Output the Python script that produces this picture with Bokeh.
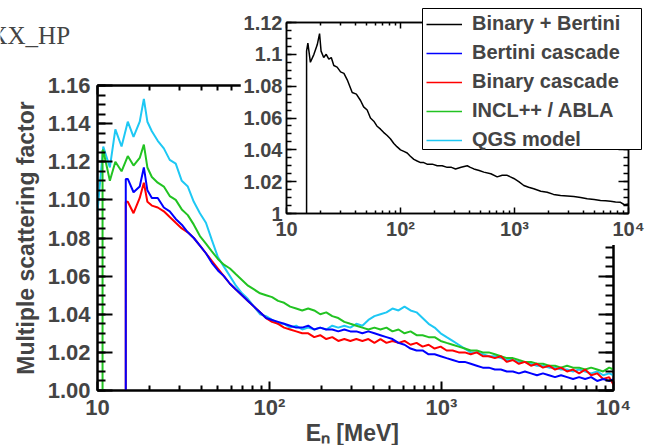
from bokeh.plotting import figure
from bokeh.models import (Range1d, LogAxis, LinearAxis, FixedTicker, NumeralTickFormatter,
                          CustomJSTickFormatter, Legend, LegendItem, Label)
from bokeh.embed import file_html
from bokeh.resources import INLINE

FONT = "Liberation Sans"

# ---------------- data ----------------
energy_grid = [10.0, 10.8, 11.8, 12.7, 13.8, 15.0, 16.2, 17.6, 18.6, 19.5, 20.7, 22.4, 24.3, 26.3,
               28.5, 30.9, 33.5, 36.3, 39.4, 42.7, 46.2, 50.1, 54.3, 58.9, 63.8, 69.2, 75.0, 81.3,
               88.1, 95.5, 103.5, 112.2, 121.6, 131.8, 142.9, 154.9, 167.9, 182.0, 197.2, 213.8,
               231.7, 251.2, 272.3, 295.1, 319.9, 346.7, 375.8, 407.4, 441.6, 478.6, 518.8, 562.3,
               609.5, 660.7, 716.1, 776.2, 841.4, 912.0, 988.6, 1071, 1161, 1259, 1365, 1479, 1603,
               1738, 1884, 2042, 2213, 2399, 2600, 2818, 3055, 3311, 3589, 3890, 4217, 4571, 4955,
               5370, 5821, 6310, 6839, 7413, 8035, 8710, 9441, 10000]

qgs_start = None
qgs = [1.094, 1.128, 1.117, 1.137, 1.128, 1.141, 1.133, 1.141, 1.153, 1.141, 1.136, 1.131, 1.127,
       1.121, 1.119, 1.110, 1.107, 1.099, 1.093, 1.088, 1.079, 1.070, 1.065, 1.060, 1.055, 1.051,
       1.048, 1.044, 1.040, 1.039, 1.037, 1.035, 1.035, 1.033, 1.034, 1.032, 1.033, 1.032, 1.033,
       1.032, 1.034, 1.033, 1.034, 1.033, 1.035, 1.034, 1.037, 1.039, 1.040, 1.041, 1.043, 1.042,
       1.044, 1.042, 1.041, 1.038, 1.035, 1.033, 1.030, 1.028, 1.026, 1.024, 1.022, 1.020, 1.020,
       1.019, 1.018, 1.018, 1.017, 1.016, 1.016, 1.015, 1.015, 1.014, 1.013, 1.013, 1.012, 1.012,
       1.011, 1.011, 1.010, 1.011, 1.010, 1.009, 1.010, 1.008, 1.009, 1.008]

incl_start = 10.7
incl = [None, 1.126, 1.110, 1.120, 1.115, 1.123, 1.118, 1.122, 1.129, 1.117, 1.112, 1.109, 1.107,
        1.102, 1.100, 1.095, 1.092, 1.087, 1.081, 1.077, 1.073, 1.069, 1.066, 1.064, 1.061, 1.058,
        1.055, 1.053, 1.051, 1.050, 1.049, 1.047, 1.046, 1.044, 1.043, 1.042, 1.043, 1.042, 1.040,
        1.041, 1.039, 1.038, 1.036, 1.035, 1.034, 1.033, 1.032, 1.033, 1.032, 1.033, 1.031, 1.032,
        1.030, 1.031, 1.029, 1.029, 1.028, 1.028, 1.026, 1.025, 1.024, 1.023, 1.022, 1.021, 1.021,
        1.020, 1.020, 1.019, 1.018, 1.017, 1.017, 1.016, 1.015, 1.015, 1.014, 1.014, 1.013, 1.013,
        1.012, 1.013, 1.012, 1.012, 1.011, 1.012, 1.011, 1.010, 1.012, 1.011]

bertini_start = 14.6
bertini = [None, None, None, None, None, 1.111, 1.104, 1.107, 1.117, 1.105, 1.101, 1.101, 1.096,
           1.094, 1.090, 1.087, 1.083, 1.080, 1.076, 1.072, 1.067, 1.063, 1.060, 1.056, 1.053,
           1.050, 1.047, 1.044, 1.041, 1.038, 1.037, 1.036, 1.035, 1.034, 1.033, 1.033, 1.034,
           1.032, 1.033, 1.032, 1.032, 1.031, 1.032, 1.031, 1.031, 1.030, 1.031, 1.030, 1.029,
           1.028, 1.027, 1.025, 1.024, 1.022, 1.021, 1.021, 1.019, 1.019, 1.018, 1.017, 1.016,
           1.015, 1.015, 1.014, 1.013, 1.012, 1.012, 1.011, 1.011, 1.010, 1.010, 1.009, 1.010,
           1.009, 1.008, 1.009, 1.008, 1.007, 1.008, 1.007, 1.006, 1.007, 1.006, 1.007, 1.005,
           1.006, 1.005, 1.006]

binary_start = 14.6
binary = [None, None, None, None, None, 1.099, 1.093, 1.101, 1.109, 1.099, 1.097, 1.096, 1.094,
          1.091, 1.088, 1.085, 1.083, 1.080, 1.076, 1.072, 1.068, 1.064, 1.060, 1.056, 1.053,
          1.050, 1.047, 1.044, 1.041, 1.038, 1.036, 1.035, 1.033, 1.032, 1.031, 1.030, 1.030,
          1.028, 1.029, 1.027, 1.028, 1.026, 1.027, 1.026, 1.027, 1.026, 1.027, 1.025, 1.027,
          1.025, 1.026, 1.025, 1.026, 1.024, 1.025, 1.023, 1.024, 1.022, 1.023, 1.021, 1.021,
          1.020, 1.020, 1.019, 1.020, 1.018, 1.018, 1.017, 1.018, 1.015, 1.016, 1.014, 1.015,
          1.013, 1.014, 1.012, 1.013, 1.011, 1.012, 1.010, 1.011, 1.009, 1.011, 1.008, 1.009,
          1.006, 1.007, 1.003]

combined_start = 15.0
combined_energy = [15.0, 15.4, 16.2, 17.4, 18.6, 19.5, 20.1, 21.2, 22.3, 23.5, 24.7, 26.0, 27.8,
                   29.8, 31.9, 34.1, 37.7, 41.0, 44.6, 47.5, 51.0, 54.5, 58.3, 62.0, 66.8, 71.0,
                   76.4, 81.5, 87.4, 93.0, 100, 107, 114.5, 122, 131, 140, 150, 160, 171, 190,
                   210, 232, 257, 280, 304, 340, 385, 410, 440, 490, 538, 620, 705, 780, 863,
                   920, 986, 1090, 1207, 1330, 1476, 1700, 1936, 2200, 2535, 2900, 3314, 3800,
                   4343, 5000, 5680, 6300, 6950, 7700, 8511, 9200, 10000]
combined = [1.102, 1.107, 1.095, 1.100, 1.106, 1.113, 1.102, 1.098, 1.100, 1.097, 1.098, 1.093,
            1.092, 1.089, 1.088, 1.084, 1.076, 1.075, 1.071, 1.067, 1.065, 1.060, 1.058, 1.055,
            1.053, 1.051, 1.049, 1.047, 1.044, 1.042, 1.040, 1.039, 1.038, 1.036, 1.034, 1.033,
            1.032, 1.032, 1.031, 1.031, 1.030, 1.030, 1.029, 1.029, 1.028, 1.029, 1.030, 1.029,
            1.028, 1.027, 1.026, 1.025, 1.023, 1.024, 1.024, 1.023, 1.022, 1.020, 1.0176, 1.0165,
            1.0155, 1.014, 1.0134, 1.012, 1.0113, 1.011, 1.0107, 1.010, 1.0092, 1.0088, 1.0082,
            1.008, 1.0077, 1.0072, 1.007, 1.0055, 1.006]

series_names = ["Binary + Bertini", "Bertini cascade", "Binary cascade", "INCL++ / ABLA", "QGS model"]
series_colors = ["#000000", "#0000ff", "#ff0000", "#22c322", "#1ec8f4"]

x_major = [10, 100, 1000, 10000]
x_labels = ["10", "10\u00b2", "10\u00b3", "10\u2074"]
x_minor = [m * d for d in (10, 100, 1000) for m in range(2, 10)]
main_y_major = [1.00, 1.02, 1.04, 1.06, 1.08, 1.10, 1.12, 1.14, 1.16]
inset_y_major = [1.00, 1.02, 1.04, 1.06, 1.08, 1.10, 1.12]
inset_y_labels = ["1", "1.02", "1.04", "1.06", "1.08", "1.1", "1.12"]
y_minor = [1.0 + 0.005 * i for i in range(0, 33)]
physics_list_tag = "XX_HP"


def hist_xy(start, grid, vals):
    xs, ys = [], []
    first = True
    for e, v in zip(grid, vals):
        if v is None:
            continue
        if first and start is not None:
            xs += [start, start]
            ys += [0.0, v]
        first = False
        xs.append(e)
        ys.append(v)
    return xs, ys


def label_formatter(vals, labels):
    return CustomJSTickFormatter(args=dict(tvals=vals, tlabels=labels), code="""
        for (let i = 0; i < tvals.length; i++) {
            if (Math.abs(tvals[i] - tick) < 1e-6 * Math.abs(tvals[i])) { return tlabels[i] }
        }
        return ''
    """)


def blank_formatter():
    return CustomJSTickFormatter(code="return ' '")


def style_axis(ax, major_len, minor_len, width, size, standoff):
    ax.major_tick_in = major_len
    ax.major_tick_out = 0
    ax.minor_tick_in = minor_len
    ax.minor_tick_out = 0
    ax.axis_line_width = width
    ax.axis_line_color = "black"
    ax.major_tick_line_width = width
    ax.minor_tick_line_width = width
    ax.major_label_text_font = FONT
    ax.major_label_text_font_style = "bold"
    ax.major_label_text_font_size = size
    ax.major_label_standoff = standoff


series_xy = {
    "Binary + Bertini": hist_xy(combined_start, combined_energy, combined),
    "Bertini cascade": hist_xy(bertini_start, energy_grid, bertini),
    "Binary cascade": hist_xy(binary_start, energy_grid, binary),
    "INCL++ / ABLA": hist_xy(incl_start, energy_grid, incl),
    "QGS model": hist_xy(qgs_start, energy_grid, qgs),
}

# ---------------- main plot ----------------
p = figure(frame_width=516, frame_height=305, x_axis_type="log", x_range=Range1d(10, 10000),
           y_range=Range1d(1.0, 1.16), output_backend="svg", toolbar_location=None,
           min_border_left=97, min_border_right=43, min_border_top=85, min_border_bottom=53)
p.grid.visible = False
p.outline_line_color = "black"
p.outline_line_width = 2
p.background_fill_color = "white"
p.border_fill_color = "white"

x_ticker = FixedTicker(ticks=x_major, minor_ticks=x_minor)
y_ticker = FixedTicker(ticks=main_y_major, minor_ticks=y_minor)

xa = p.xaxis[0]
xa.ticker = x_ticker
xa.formatter = label_formatter(x_major, x_labels)
style_axis(xa, 9, 5, 2, "22px", 4)
xa.axis_label = "E\u2099  [MeV]"
xa.axis_label_text_font = FONT
xa.axis_label_text_font_style = "bold"
xa.axis_label_text_font_size = "23px"
xa.axis_label_standoff = -3

ya = p.yaxis[0]
ya.ticker = y_ticker
ya.formatter = NumeralTickFormatter(format="0.00")
style_axis(ya, 15, 8, 2, "22px", 7)
ya.axis_label = "Multiple scattering factor"
ya.axis_label_text_font = FONT
ya.axis_label_text_font_style = "bold"
ya.axis_label_text_font_size = "23px"
ya.axis_label_standoff = 6

top = LogAxis(ticker=x_ticker, formatter=blank_formatter())
style_axis(top, 9, 5, 2, "2px", 0)
p.add_layout(top, "above")
right = LinearAxis(ticker=y_ticker, formatter=blank_formatter())
style_axis(right, 15, 8, 2, "2px", 0)
p.add_layout(right, "right")

# drawing order: QGS, INCL, Binary, Bertini (Bertini on top)
for idx in (4, 3, 2, 1):
    xs, ys = series_xy[series_names[idx]]
    p.line(xs, ys, line_color=series_colors[idx], line_width=2)

# ---------------- inset ----------------
ins = figure(frame_width=342, frame_height=191, x_axis_type="log", x_range=Range1d(10, 10000),
             y_range=Range1d(1.0, 1.12), output_backend="svg", toolbar_location=None,
             min_border_left=46, min_border_right=22, min_border_top=14, min_border_bottom=32,
             styles={"position": "absolute", "left": "240px", "top": "8px", "z-index": "2"})
ins.grid.visible = False
ins.outline_line_color = "black"
ins.outline_line_width = 1.5
ins.background_fill_color = "white"
ins.border_fill_color = "white"

iy_ticker = FixedTicker(ticks=inset_y_major, minor_ticks=y_minor[:25])
ixa = ins.xaxis[0]
ixa.ticker = x_ticker
ixa.formatter = label_formatter(x_major, x_labels)
style_axis(ixa, 6, 3, 1.5, "20px", 4)
iya = ins.yaxis[0]
iya.ticker = iy_ticker
iya.formatter = label_formatter(inset_y_major, inset_y_labels)
style_axis(iya, 10, 5, 1.5, "20px", 4)
itop = LogAxis(ticker=x_ticker, formatter=blank_formatter())
style_axis(itop, 6, 3, 1.5, "2px", 0)
ins.add_layout(itop, "above")
iright = LinearAxis(ticker=iy_ticker, formatter=blank_formatter())
style_axis(iright, 10, 5, 1.5, "2px", 0)
ins.add_layout(iright, "right")

cx, cy = series_xy[series_names[0]]
ins.line(cx, cy, line_color=series_colors[0], line_width=1.5)

# ---------------- legend box (small panel on top) ----------------
# its ranges lie outside the data, so the series lines here only serve the legend samples
leg = figure(frame_width=220, frame_height=142, x_range=Range1d(0, 1), y_range=Range1d(0, 1),
             x_axis_location=None, y_axis_location=None,
             output_backend="svg", toolbar_location=None,
             min_border_left=0, min_border_right=0, min_border_top=0, min_border_bottom=0,
             styles={"position": "absolute", "left": "422px", "top": "8px", "z-index": "3"})
leg.grid.visible = False
leg.outline_line_color = "black"
leg.outline_line_width = 1
proxies = []
for name, col in zip(series_names, series_colors):
    xs, ys = series_xy[name]
    proxies.append(leg.line(xs, ys, line_color=col, line_width=1.5))
legend = Legend(items=[LegendItem(label=n, renderers=[r]) for n, r in zip(series_names, proxies)],
                location="top_left", label_text_font=FONT, label_text_font_style="bold",
                label_text_font_size="20px", glyph_width=36, glyph_height=22, label_height=22,
                label_standoff=10, padding=6, spacing=6, margin=4,
                border_line_color=None, background_fill_alpha=0.0)
leg.add_layout(legend)

# ---------------- physics-list tag at top left ----------------
tag = figure(frame_width=90, frame_height=40, x_range=Range1d(0, 1), y_range=Range1d(0, 1),
             x_axis_location=None, y_axis_location=None,
             output_backend="svg", toolbar_location=None,
             min_border_left=0, min_border_right=0, min_border_top=0, min_border_bottom=0,
             styles={"position": "absolute", "left": "0px", "top": "10px", "z-index": "1"})
tag.grid.visible = False
tag.outline_line_color = None
tag.add_layout(Label(x=-11, y=15, x_units="screen", y_units="screen", text=physics_list_tag,
                     text_font="Liberation Serif", text_font_size="25px",
                     text_baseline="alphabetic", text_align="left"))

open("out.html", "w").write(file_html([p, ins, leg, tag], INLINE))
